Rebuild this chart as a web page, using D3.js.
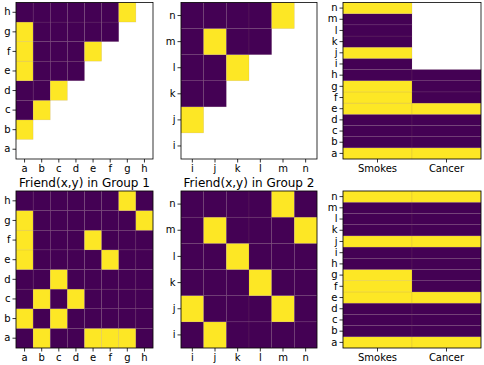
<!DOCTYPE html>
<html>
<head>
<meta charset="utf-8">
<script src="https://cdn.jsdelivr.net/npm/d3@7"></script>
<style>
  body { margin: 0; background: #fff; }
  svg text { font-family: "DejaVu Sans", sans-serif; }
</style>
</head>
<body>
<div id="chart-area"></div>
<script>
// people in each group
const group1 = ["a", "b", "c", "d", "e", "f", "g", "h"];
const group2 = ["i", "j", "k", "l", "m", "n"];
const people = group1.concat(group2);
const attrs = ["Smokes", "Cancer"];
const n = null;

// friendship rows, listed from the bottom row (a / i) upwards; null = unknown
const friendsKnown1 = [
  [n, n, n, n, n, n, n, n],
  [1, n, n, n, n, n, n, n],
  [0, 1, n, n, n, n, n, n],
  [0, 0, 1, n, n, n, n, n],
  [1, 0, 0, 0, n, n, n, n],
  [1, 0, 0, 0, 1, n, n, n],
  [1, 0, 0, 0, 0, 0, n, n],
  [0, 0, 0, 0, 0, 0, 1, n]
];
const friendsFull1 = [
  [0, 1, 0, 0, 1, 1, 1, 0],
  [1, 0, 1, 0, 0, 0, 0, 0],
  [0, 1, 0, 1, 0, 0, 0, 0],
  [0, 0, 1, 0, 0, 0, 0, 0],
  [1, 0, 0, 0, 0, 1, 0, 0],
  [1, 0, 0, 0, 1, 0, 0, 0],
  [1, 0, 0, 0, 0, 0, 0, 1],
  [0, 0, 0, 0, 0, 0, 1, 0]
];
const friendsKnown2 = [
  [n, n, n, n, n, n],
  [1, n, n, n, n, n],
  [0, 0, n, n, n, n],
  [0, 0, 1, n, n, n],
  [0, 1, 0, 0, n, n],
  [0, 0, 0, 0, 1, n]
];
const friendsFull2 = [
  [0, 1, 0, 0, 0, 0],
  [1, 0, 0, 0, 1, 0],
  [0, 0, 0, 1, 0, 0],
  [0, 0, 1, 0, 0, 0],
  [0, 1, 0, 0, 0, 1],
  [0, 0, 0, 0, 1, 0]
];

// attributes per person a..n
const smokesKnown = [1, 0, 0, 0, 1, 1, 1, 0, 0, 1, 0, 0, 0, 1];
const cancerKnown = [1, 0, 0, 0, 1, 0, 0, 0, n, n, n, n, n, n];
const smokesFull  = [1, 0, 0, 0, 1, 1, 1, 0, 0, 1, 0, 0, 0, 1];
const cancerFull  = [1, 0, 0, 0, 1, 0, 0, 0, 0, 1, 0, 0, 0, 1];

const W = 484, H = 365;
const svg = d3.select("#chart-area").append("svg")
    .attr("width", W)
    .attr("height", H);

const color = d3.scaleLinear().domain([0, 1]).range(["#440154", "#fde725"]);

// draw one heatmap panel; rows[yi][xi]
function panel(box, xLabels, yLabels, rows, title) {
  let x = d3.scaleBand().domain(xLabels).range([box.x0, box.x1]);
  let y = d3.scaleBand().domain(yLabels).range([box.y1, box.y0]);
  let g = svg.append("g");

  let cells = [];
  rows.forEach((r, yi) => r.forEach((v, xi) => {
    if (v !== null) cells.push({x: xLabels[xi], y: yLabels[yi], v: v});
  }));

  g.selectAll("rect.cell")
    .data(cells)
    .enter()
    .append("rect")
    .attr("class", "cell")
    .attr("x", d => x(d.x))
    .attr("y", d => y(d.y))
    .attr("width", x.bandwidth())
    .attr("height", y.bandwidth())
    .attr("fill", d => color(d.v))
    .attr("stroke", "rgba(150,110,120,0.22)")
    .attr("stroke-width", 0.6);

  let xAxis = d3.axisBottom(x).tickSize(3.5).tickSizeOuter(0).tickPadding(2.5);
  let yAxis = d3.axisLeft(y).tickSize(3.5).tickSizeOuter(0).tickPadding(2);

  let gx = g.append("g")
    .attr("transform", "translate(0," + box.y1 + ")")
    .call(xAxis);
  let gy = g.append("g")
    .attr("transform", "translate(" + box.x0 + ",0)")
    .call(yAxis);
  [gx, gy].forEach(a => {
    a.select(".domain").remove();
    a.selectAll("text").attr("font-size", 10).attr("fill", "#000")
      .style("font-family", "DejaVu Sans");
    a.selectAll("line").attr("stroke", "#000").attr("stroke-width", 0.8);
  });

  g.append("rect")
    .attr("x", box.x0)
    .attr("y", box.y0)
    .attr("width", box.x1 - box.x0)
    .attr("height", box.y1 - box.y0)
    .attr("fill", "none")
    .attr("stroke", "#000")
    .attr("stroke-width", 0.8);

  if (title) {
    g.append("text")
      .attr("x", (box.x0 + box.x1) / 2)
      .attr("y", box.y0 - 4)
      .attr("text-anchor", "middle")
      .attr("font-size", 12)
      .text(title);
  }
}

function attrRows(s, c) {
  return people.map((p, i) => [s[i], c[i]]);
}

const rowTop = {y0: 2.5, y1: 159}, rowBot = {y0: 191, y1: 348};
const colL = {x0: 16, x1: 153}, colM = {x0: 181, x1: 317}, colR = {x0: 343, x1: 481};

panel(Object.assign({}, colL, rowTop), group1, group1, friendsKnown1);
panel(Object.assign({}, colM, rowTop), group2, group2, friendsKnown2);
panel(Object.assign({}, colR, rowTop), attrs, people, attrRows(smokesKnown, cancerKnown));
panel(Object.assign({}, colL, rowBot), group1, group1, friendsFull1, "Friend(x,y) in Group 1");
panel(Object.assign({}, colM, rowBot), group2, group2, friendsFull2, "Friend(x,y) in Group 2");
panel(Object.assign({}, colR, rowBot), attrs, people, attrRows(smokesFull, cancerFull));
</script>
</body>
</html>
